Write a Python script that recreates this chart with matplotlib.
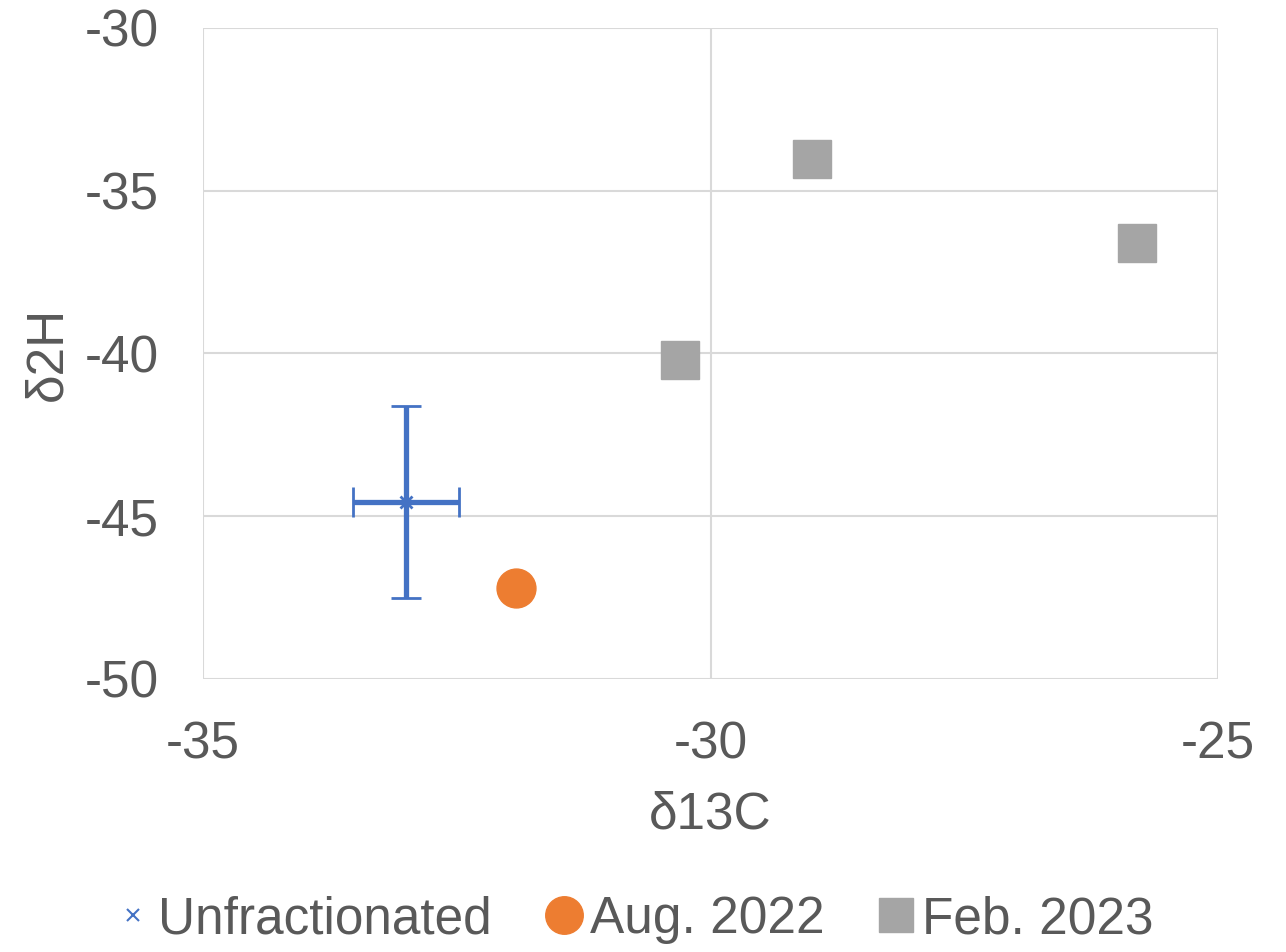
import matplotlib.pyplot as plt
from matplotlib.lines import Line2D

plt.rcParams['font.family'] = ['Liberation Sans', 'DejaVu Sans']
plt.rcParams['axes.unicode_minus'] = False

# data
unfrac_x = [-33.0]
unfrac_y = [-44.55]
unfrac_xerr = [0.52]
unfrac_yerr = [2.95]

aug_x = [-31.92]
aug_y = [-47.2]

feb_x = [-30.3, -29.0, -25.8]
feb_y = [-40.2, -34.02, -36.6]

labels = ['Unfractionated', 'Aug. 2022', 'Feb. 2023']
xticks = [-35, -30, -25]
yticks = [-50, -45, -40, -35, -30]

txt = '#595959'
blue = '#4472C4'
orange = '#ED7D31'
gray = '#A5A5A5'

fig = plt.figure(figsize=(12.86, 9.52), dpi=100)
ax = fig.add_axes([0.1579, 0.2868, 0.7892, 0.6838])

ax.errorbar(unfrac_x, unfrac_y, xerr=unfrac_xerr, yerr=unfrac_yerr,
            fmt='x', color=blue, ecolor=blue, elinewidth=3.8, capsize=11,
            capthick=3.8, markersize=8, mew=2, zorder=3)
ax.plot(aug_x, aug_y, 'o', color=orange, markersize=28, zorder=3)
ax.plot(feb_x, feb_y, 's', color=gray, markersize=28, zorder=3)

ax.set_xlim(-35, -25)
ax.set_ylim(-50, -30)
ax.set_xticks(xticks)
ax.set_yticks(yticks)
ax.tick_params(length=0, labelsize=37, labelcolor=txt)
ax.tick_params(axis='y', pad=32)
ax.tick_params(axis='x', pad=30)
for s in ax.spines.values():
    s.set_visible(False)
ax.grid(True, color='#D9D9D9', lw=1.5)
ax.set_axisbelow(True)

ax.set_xlabel('δ13C', fontsize=37, color=txt, labelpad=15)
ax.set_ylabel('δ2H', fontsize=37, color=txt, labelpad=9)

h = [Line2D([], [], marker='x', color=blue, ls='', markersize=9, mew=1.5),
     Line2D([], [], marker='o', color=orange, ls='', markersize=27),
     Line2D([], [], marker='s', color=gray, ls='', markersize=24)]
fig.legend(h, labels, loc='center', bbox_to_anchor=(0.492, 0.034), ncol=3, frameon=False,
           fontsize=37, labelcolor=txt, handletextpad=0.1, columnspacing=1.0,
           handlelength=0.8)

fig.savefig('out.png', dpi=100)
